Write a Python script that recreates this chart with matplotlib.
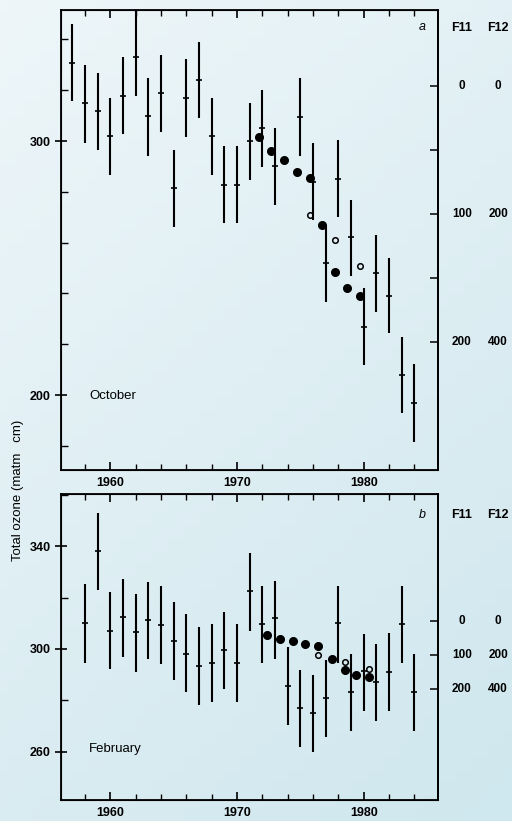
import numpy as np
import matplotlib
matplotlib.use('Agg')
import matplotlib.pyplot as plt
from matplotlib.ticker import MultipleLocator, FixedLocator

plt.rcParams['font.family'] = ['Liberation Sans', 'DejaVu Sans']

# October (a): yearly means with error bars
oct_years = [1957, 1958, 1959, 1960, 1961, 1962, 1963, 1964, 1965, 1966, 1967, 1968, 1969,
             1970, 1971, 1972, 1973, 1975, 1976, 1977, 1978, 1979, 1980, 1981, 1982, 1983, 1984]
oct_mean = [330.8, 314.8, 311.8, 302.0, 317.8, 333.0, 309.8, 318.8, 281.6, 317.0, 324.0, 302.0, 282.7,
            282.7, 300.0, 305.2, 290.2, 309.4, 284.0, 251.9, 285.0, 262.1, 226.9, 247.9, 239.1, 208.1, 196.7]
oct_hi = [346.0, 329.8, 326.9, 317.0, 333.0, 352.0, 325.0, 333.9, 296.5, 332.2, 339.1, 317.0, 298.0,
          298.0, 315.0, 320.3, 305.2, 324.7, 299.3, 266.5, 300.4, 277.0, 242.0, 263.0, 254.0, 223.0, 212.1]
oct_lo = [315.7, 299.3, 296.5, 286.6, 302.6, 317.7, 294.2, 303.7, 266.3, 301.7, 308.9, 286.7, 267.6,
          267.6, 284.6, 289.9, 274.8, 294.2, 268.9, 236.7, 270.0, 247.0, 211.8, 232.8, 224.3, 192.8, 181.6]
oct_model_x = [1971.7, 1972.7, 1973.7, 1974.7, 1975.8, 1976.7, 1977.7, 1978.7, 1979.7]
oct_model_y = [301.7, 296.1, 292.4, 287.9, 285.6, 266.8, 248.4, 242.0, 239.1]
oct_open_x = [1975.8, 1977.7, 1979.7]
oct_open_y = [270.9, 261.0, 250.9]

# February (b)
feb_years = [1958, 1959, 1960, 1961, 1962, 1963, 1964, 1965, 1966, 1967, 1968, 1969, 1970,
             1971, 1972, 1973, 1974, 1975, 1976, 1977, 1978, 1979, 1980, 1981, 1982, 1983, 1984]
feb_mean = [310.2, 338.1, 307.1, 312.6, 306.4, 311.3, 309.3, 303.2, 298.2, 293.4, 294.4, 299.4, 294.4,
            322.6, 309.7, 311.9, 285.7, 276.9, 275.0, 280.8, 310.0, 283.3, 291.4, 287.3, 291.2, 309.6, 283.3]
feb_hi = [325.2, 353.0, 322.3, 327.2, 321.3, 326.1, 324.3, 318.4, 313.5, 308.4, 309.6, 314.4, 309.6,
          337.5, 324.5, 326.6, 300.6, 291.8, 289.9, 295.7, 324.5, 298.1, 305.8, 301.9, 306.1, 324.3, 298.1]
feb_lo = [294.7, 323.0, 292.1, 297.0, 291.2, 296.0, 294.0, 287.9, 283.1, 278.0, 279.2, 284.3, 279.2,
          307.1, 294.4, 296.1, 270.4, 262.0, 260.0, 265.9, 294.7, 268.2, 276.0, 272.1, 276.0, 294.4, 268.2]
feb_model_x = [1972.4, 1973.4, 1974.4, 1975.4, 1976.4, 1977.5, 1978.5, 1979.4, 1980.4]
feb_model_y = [305.3, 303.8, 302.9, 301.8, 301.3, 296.1, 291.6, 289.9, 289.2]
feb_open_x = [1976.4, 1978.5, 1980.4]
feb_open_y = [297.5, 294.8, 292.2]

# right-hand CFC scales
f11_ticks = [0, 100, 200]
f11_labels = ['0', '100', '200']
f12_labels = ['0', '200', '400']

fig = plt.figure(figsize=(5.12, 8.21), dpi=100)

# light blue gradient background
bg = fig.add_axes([0, 0, 1, 1], zorder=-10)
gx, gy = np.meshgrid(np.linspace(0, 1, 64), np.linspace(0, 1, 64))
g = (gx * 0.35 + gy * 0.65)
c0 = np.array([0xee, 0xf6, 0xf9]) / 255
c1 = np.array([0xcf, 0xe7, 0xee]) / 255
img = c0[None, None, :] * (1 - g[..., None]) + c1[None, None, :] * g[..., None]
bg.imshow(img, aspect='auto', extent=[0, 1, 0, 1], origin='upper')
bg.axis('off')


def panel(ax, years, mean, hi, lo, mx, my, ox, oy):
    ax.set_facecolor('none')
    m = np.array(mean)
    ax.errorbar(years, mean, yerr=[m - np.array(lo), np.array(hi) - m], fmt='none',
                ecolor='black', elinewidth=1.5, capsize=0)
    ax.plot(years, mean, ls='none', marker='_', ms=5, mew=1.2, color='black')
    ax.plot(mx, my, ls='none', marker='o', ms=5.5, color='black')
    ax.plot(ox, oy, ls='none', marker='o', ms=4, mfc='none', mec='black', mew=1.1)
    ax.set_xlim(1956.1, 1985.85)
    ax.xaxis.set_major_locator(FixedLocator([1960, 1970, 1980]))
    ax.xaxis.set_minor_locator(MultipleLocator(2))
    ax.tick_params(axis='x', which='major', direction='in', length=6, width=1.2,
                   top=True, labelsize=9, pad=5)
    ax.tick_params(axis='x', which='minor', direction='in', length=4, width=1, top=True)
    ax.tick_params(axis='y', which='major', direction='inout', length=8, width=1.2, labelsize=9)
    ax.tick_params(axis='y', which='minor', direction='in', length=5, width=1)
    for s in ax.spines.values():
        s.set_linewidth(1.3)
    for lab in ax.get_xticklabels() + ax.get_yticklabels():
        lab.set_fontweight('bold')


def cfc_scale(ax, o0, slope, lo, hi, ticks, head_y):
    r = ax.twinx()
    r.set_ylim((o0 - lo) / slope, (o0 - hi) / slope)
    r.yaxis.set_major_locator(FixedLocator(ticks))
    r.tick_params(axis='y', direction='in', length=6, width=1.1, labelright=False)
    r.spines['right'].set_linewidth(1.3)
    tr = r.get_yaxis_transform()
    for k, v in enumerate(f11_ticks):
        r.text(1.064, v, f11_labels[k], transform=tr, ha='center', va='center',
               fontsize=8.5, fontweight='bold')
        r.text(1.16, v, f12_labels[k], transform=tr, ha='center', va='center',
               fontsize=8.5, fontweight='bold')
    r.text(1.064, head_y, 'F11', transform=r.transAxes, ha='center', va='center',
           fontsize=9, fontweight='bold')
    r.text(1.16, head_y, 'F12', transform=r.transAxes, ha='center', va='center',
           fontsize=9, fontweight='bold')
    return r


# top panel: October
ax1 = fig.add_axes([0.119, 0.4275, 0.736, 0.5603])
panel(ax1, oct_years, oct_mean, oct_hi, oct_lo, oct_model_x, oct_model_y, oct_open_x, oct_open_y)
ax1.set_ylim(170.5, 351.6)
ax1.yaxis.set_major_locator(FixedLocator([200, 300]))
ax1.yaxis.set_minor_locator(MultipleLocator(20))
ax1.text(0.075, 0.161, 'October', transform=ax1.transAxes, fontsize=9.5, va='center')
ax1.text(0.95, 0.963, 'a', transform=ax1.transAxes, fontsize=9, style='italic', va='center')
cfc_scale(ax1, 321.7, 0.504, 170.5, 351.6, [0, 50, 100, 150, 200], 0.96)

# bottom panel: February
ax2 = fig.add_axes([0.119, 0.0256, 0.736, 0.3727])
panel(ax2, feb_years, feb_mean, feb_hi, feb_lo, feb_model_x, feb_model_y, feb_open_x, feb_open_y)
ax2.set_ylim(241.2, 360.3)
ax2.yaxis.set_major_locator(FixedLocator([260, 300, 340]))
ax2.yaxis.set_minor_locator(MultipleLocator(20))
ax2.text(0.075, 0.165, 'February', transform=ax2.transAxes, fontsize=9.5, va='center')
ax2.text(0.95, 0.93, 'b', transform=ax2.transAxes, fontsize=9, style='italic', va='center')
cfc_scale(ax2, 310.9, 0.133, 241.2, 360.3, f11_ticks, 0.93)

fig.text(0.035, 0.403, 'Total ozone (matm   cm)', rotation=90, ha='center', va='center',
         fontsize=9.5)

fig.savefig('out.png', dpi=100)
